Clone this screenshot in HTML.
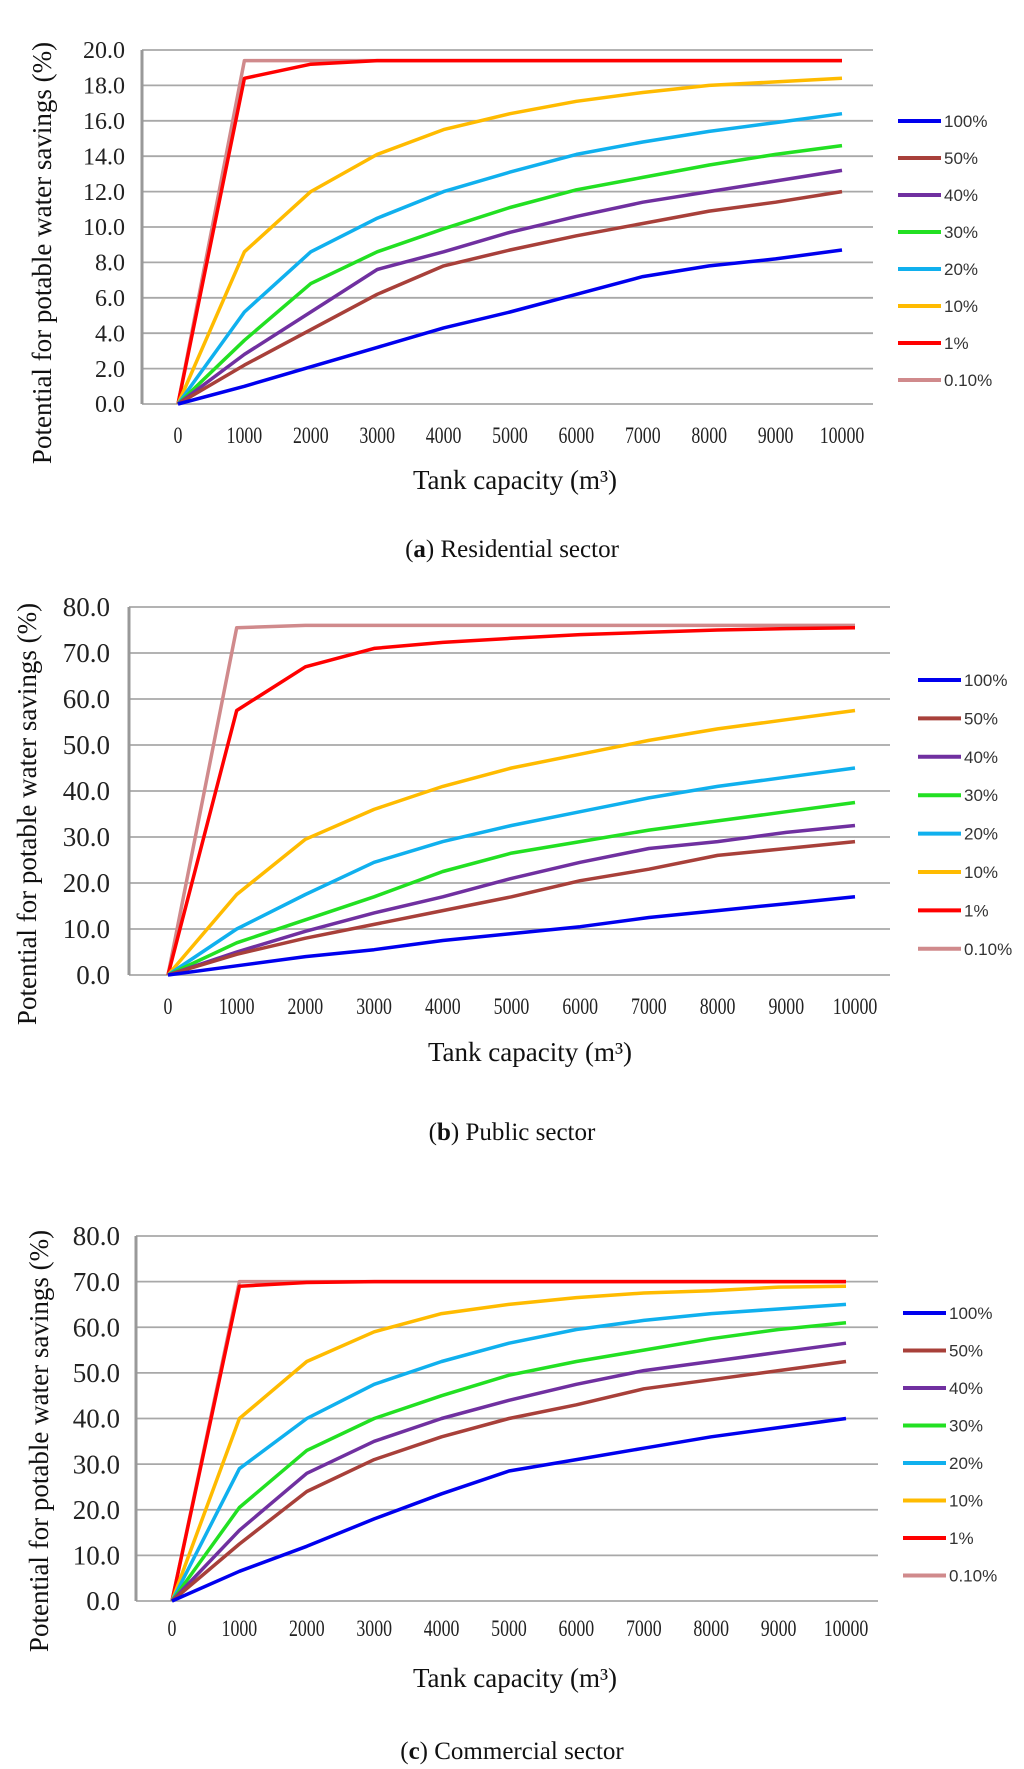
<!DOCTYPE html>
<html><head><meta charset="utf-8">
<style>
html,body{margin:0;padding:0;background:#fff;}
svg{display:block;}
.yl{font-family:"Liberation Serif",serif;fill:#222;}
.xl{font-family:"Liberation Serif",serif;fill:#222;}
.lg{font-family:"Liberation Sans",sans-serif;fill:#333;font-size:17px;}
.ttl{font-family:"Liberation Serif",serif;fill:#111;}
</style></head>
<body>
<svg id="fig" width="1024" height="1769" viewBox="0 0 1024 1769" xmlns="http://www.w3.org/2000/svg"></svg>
<script>
const categories = [0,1000,2000,3000,4000,5000,6000,7000,8000,9000,10000];
const seriesNames = ["100%","50%","40%","30%","20%","10%","1%","0.10%"];
const seriesColors = ["#0000ee","#a8403a","#7030a0","#22e022","#10b0ee","#ffbb00","#ff0000","#d08a8c"];
const ticksA = ["0.0","2.0","4.0","6.0","8.0","10.0","12.0","14.0","16.0","18.0","20.0"];
const ticksBC = ["0.0","10.0","20.0","30.0","40.0","50.0","60.0","70.0","80.0"];
const resA100=[0,1.0,2.1,3.2,4.3,5.2,6.2,7.2,7.8,8.2,8.7];
const resA50=[0,2.2,4.2,6.2,7.8,8.7,9.5,10.2,10.9,11.4,12.0];
const resA40=[0,2.8,5.2,7.6,8.6,9.7,10.6,11.4,12.0,12.6,13.2];
const resA30=[0,3.6,6.8,8.6,9.9,11.1,12.1,12.8,13.5,14.1,14.6];
const resA20=[0,5.2,8.6,10.5,12.0,13.1,14.1,14.8,15.4,15.9,16.4];
const resA10=[0,8.6,12.0,14.1,15.5,16.4,17.1,17.6,18.0,18.2,18.4];
const resA1=[0,18.4,19.2,19.4,19.4,19.4,19.4,19.4,19.4,19.4,19.4];
const resA01=[0,19.4,19.4,19.4,19.4,19.4,19.4,19.4,19.4,19.4,19.4];
const pubB100=[0,2,4,5.5,7.5,9,10.5,12.5,14,15.5,17];
const pubB50=[0,4.5,8,11,14,17,20.5,23,26,27.5,29];
const pubB40=[0,5,9.5,13.5,17,21,24.5,27.5,29,31,32.5];
const pubB30=[0,7,12,17,22.5,26.5,29,31.5,33.5,35.5,37.5];
const pubB20=[0,10,17.5,24.5,29,32.5,35.5,38.5,41,43,45];
const pubB10=[0,17.5,29.5,36,41,45,48,51,53.5,55.5,57.5];
const pubB1=[0,57.5,67,71,72.3,73.2,74,74.5,75,75.3,75.5];
const pubB01=[0,75.5,76,76,76,76,76,76,76,76,76];
const comC100=[0,6.5,12,18,23.5,28.5,31,33.5,36,38,40];
const comC50=[0,12.5,24,31,36,40,43,46.5,48.5,50.5,52.5];
const comC40=[0,15.5,28,35,40,44,47.5,50.5,52.5,54.5,56.5];
const comC30=[0,20.5,33,40,45,49.5,52.5,55,57.5,59.5,61];
const comC20=[0,29,40,47.5,52.5,56.5,59.5,61.5,63,64,65];
const comC10=[0,40,52.5,59,63,65,66.5,67.5,68,68.8,69];
const comC1=[0,69,69.8,70,70,70,70,70,70,70,70];
const comC01=[0,70,70,70,70,70,70,70,70,70,70];

const NS="http://www.w3.org/2000/svg";
const svg=document.getElementById('fig');
function mk(tag,attrs,parent){const e=document.createElementNS(NS,tag);for(const k in attrs)e.setAttribute(k,attrs[k]);(parent||svg).appendChild(e);return e;}

function chart(cfg){
  const g=mk('g',{});
  
  
  const yMax=cfg.yMax;
  const ys=v=>cfg.bottom-(v/yMax)*(cfg.bottom-cfg.top);
  const xs=i=>cfg.x0+(i/(categories.length-1))*(cfg.x1-cfg.x0);
  cfg.ticks.forEach((t)=>{
    const v=parseFloat(t);const y=ys(v);
    const l=mk('line',{x1:cfg.left,x2:cfg.right,y1:y,y2:y,stroke:'#a8a8a8','stroke-width':1.8},g);
    
    
    const tx=mk('text',{x:cfg.ylx,y:y+cfg.yfs*0.34,'text-anchor':'end','font-size':cfg.yfs,class:'yl'},g);
    tx.textContent=t;
    
    
  });
  const ax=mk('line',{x1:cfg.left,x2:cfg.left,y1:cfg.top,y2:cfg.bottom,stroke:'#999','stroke-width':3},g);
  
  
  categories.forEach((c,i)=>{
    const tx=mk('text',{x:xs(i),y:cfg.xly,'text-anchor':'middle','font-size':21,class:'xl'},g);
    tx.setAttribute('transform',`translate(${xs(i)} ${cfg.xly}) scale(0.85 1.1) translate(${-xs(i)} ${-cfg.xly})`);
    tx.textContent=c;
    
    
  });
  for(let s=cfg.series.length-1;s>=0;s--){
    const pts=cfg.series[s].map((v,i)=>xs(i).toFixed(1)+','+ys(v).toFixed(1)).join(' ');
    const pl=mk('polyline',{points:pts,fill:'none',stroke:seriesColors[s],'stroke-width':3.5,'stroke-linejoin':'round'},g);
    
    
  }
  seriesNames.forEach((n,i)=>{
    const y=cfg.lgY+i*cfg.lgStep;
    const ll=mk('line',{x1:cfg.lgX,x2:cfg.lgX+43,y1:y,y2:y,stroke:seriesColors[i],'stroke-width':4},g);
    
    
    const t=mk('text',{x:cfg.lgX+46,y:y+6,class:'lg'},g);
    t.textContent=n;
    
    
  });
  const yt=mk('text',{x:0,y:0,'text-anchor':'middle','font-size':27,class:'ttl',transform:`translate(${cfg.ytx} ${cfg.yty}) rotate(-90)`},g);
  yt.textContent='Potential for potable water savings (%)';
  
  
  const xt=mk('text',{x:cfg.xtx,y:cfg.xty,'text-anchor':'middle','font-size':27,class:'ttl'},g);
  xt.textContent='Tank capacity (m³)';
  
  
  const cap=mk('text',{x:512,y:cfg.capY,'text-anchor':'middle','font-size':25,class:'ttl'},g);
  cap.innerHTML='(<tspan font-weight="bold">'+cfg.letter+'</tspan>) '+cfg.caption;
  
  
}

chart({name:'chart-residential',yMax:20,ticks:ticksA,top:50,bottom:404,left:142,right:873,x0:178,x1:842,ylx:125,yfs:24,xly:443,
  series:[resA100,resA50,resA40,resA30,resA20,resA10,resA1,resA01],lgX:898,lgY:121,lgStep:37,ytx:51,yty:253,xtx:515,xty:489,capY:557,letter:'a',caption:'Residential sector'});
chart({name:'chart-public',yMax:80,ticks:ticksBC,top:607,bottom:975,left:129,right:890,x0:168,x1:855,ylx:110,yfs:27,xly:1014,
  series:[pubB100,pubB50,pubB40,pubB30,pubB20,pubB10,pubB1,pubB01],lgX:918,lgY:680,lgStep:38.4,ytx:36,yty:814,xtx:530,xty:1061,capY:1140,letter:'b',caption:'Public sector'});
chart({name:'chart-commercial',yMax:80,ticks:ticksBC,top:1236,bottom:1601,left:136,right:878,x0:172,x1:846,ylx:120,yfs:27,xly:1636,
  series:[comC100,comC50,comC40,comC30,comC20,comC10,comC1,comC01],lgX:903,lgY:1313,lgStep:37.5,ytx:48,yty:1441,xtx:515,xty:1687,capY:1759,letter:'c',caption:'Commercial sector'});
</script>
</body></html>
